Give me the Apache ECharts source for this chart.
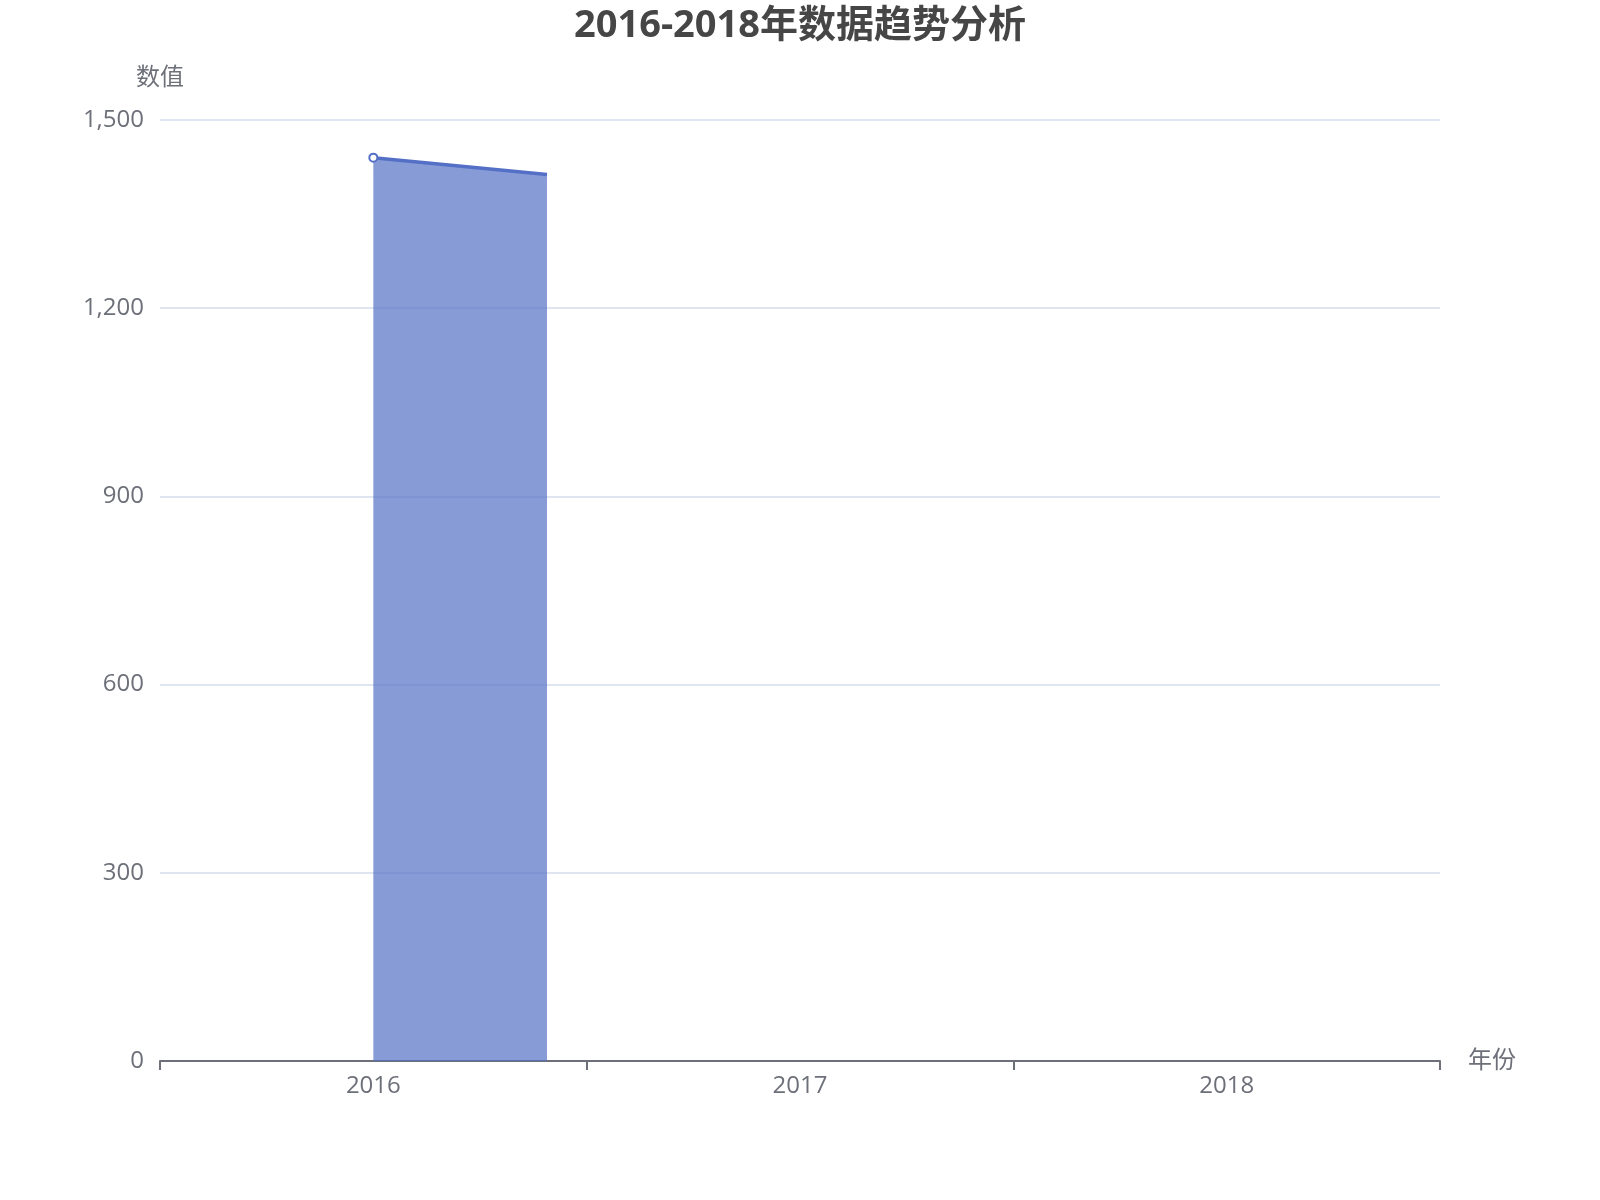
<!DOCTYPE html>
<html>
<head>
<meta charset="utf-8">
<script src="https://cdn.jsdelivr.net/npm/echarts@6/dist/echarts.min.js"></script>
<style>
html,body{margin:0;padding:0;background:#fff;}
#chart{width:1600px;height:1200px;}
</style>
</head>
<body>
<div id="chart"></div>
<script>
// Category labels on the x axis
const years = ['2016', '2017', '2018'];
// Drawn segment of the series: [category position, value]
// (line begins at 2016 and stops part-way toward 2017, as in the reference)
const seriesPositions = [0, 0.407];
const seriesValues = [1440, 1413];
const yTicks = [0, 300, 600, 900, 1200, 1500];

const chart = echarts.init(document.getElementById('chart'));
const font = '"Open Sans", "Noto Sans CJK SC", sans-serif';

const lineData = seriesPositions.map((p, i) => {
  const item = { value: [p, seriesValues[i]] };
  if (i > 0) item.symbol = 'none';
  return item;
});

chart.setOption({
  animation: false,
  textStyle: { fontFamily: font },
  title: {
    text: '2016-2018年数据趋势分析',
    left: 'center',
    top: 2,
    textStyle: { fontSize: 38, fontWeight: 'bold', color: '#464646', fontFamily: font }
  },
  grid: { left: 160, right: 160, top: 120, bottom: 139 },
  xAxis: [
    {
      type: 'category',
      data: years,
      boundaryGap: true,
      name: '年份',
      nameGap: 28,
      nameTextStyle: { fontSize: 24, color: '#6E7079' },
      axisLine: { onZero: false, lineStyle: { color: '#6E7079', width: 2 } },
      axisTick: { show: true, length: 9, lineStyle: { color: '#6E7079', width: 2 } },
      axisLabel: { fontSize: 24, color: '#6E7079', margin: 13 }
    },
    {
      type: 'value',
      min: -0.5,
      max: years.length - 0.5,
      show: false
    }
  ],
  yAxis: {
    type: 'value',
    name: '数值',
    min: yTicks[0],
    max: yTicks[yTicks.length - 1],
    interval: yTicks[1] - yTicks[0],
    nameGap: 30,
    nameTextStyle: { fontSize: 24, color: '#6E7079', align: 'center' },
    axisLine: { show: false, onZero: false },
    axisTick: { show: false },
    axisLabel: { fontSize: 24, color: '#6E7079', margin: 16 },
    splitLine: { lineStyle: { color: '#E0E6F1', width: 2 } }
  },
  series: [{
    type: 'line',
    xAxisIndex: 1,
    data: lineData,
    symbol: 'emptyCircle',
    symbolSize: 8,
    lineStyle: { width: 3.5, color: '#5470c6' },
    itemStyle: { color: '#5470c6', borderWidth: 2.5 },
    areaStyle: { color: '#5470c6', opacity: 0.7 }
  }]
});
</script>
</body>
</html>
